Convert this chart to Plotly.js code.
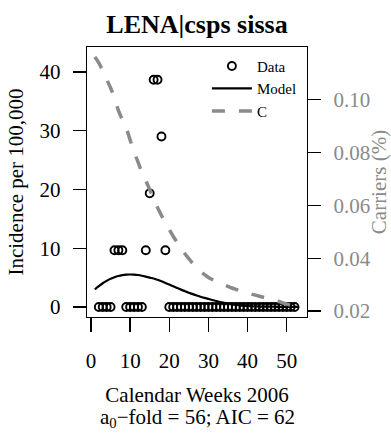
<!DOCTYPE html>
<html>
<head>
<meta charset="utf-8">
<script src="https://cdn.plot.ly/plotly-3.0.1.min.js"></script>
<style>html,body{margin:0;padding:0;background:#fff;}#chart{width:391px;height:434px;}</style>
</head>
<body>
<div id="chart"></div>
<script>
// Observed incidence (per 100,000) by calendar week
var dataWeeks = [2,3,4,5,6,7,8,9,10,11,12,13,14,15,16,17,18,19,20,21,22,23,24,25,26,27,28,29,30,31,32,33,34,35,36,37,38,39,40,41,42,43,44,45,46,47,48,49,50,51,52];
var incidence = [0,0,0,0,9.675,9.675,9.675,0,0,0,0,0,9.675,19.35,38.7,38.7,29.025,9.675,0,0,0,0,0,0,0,0,0,0,0,0,0,0,0,0,0,0,0,0,0,0,0,0,0,0,0,0,0,0,0,0,0];

// Model fit and carriage curve, by week
var curveWeeks = [1,2,3,4,5,6,7,8,9,10,11,12,13,14,15,16,17,18,19,20,21,22,23,24,25,26,27,28,29,30,31,32,33,34,35,36,37,38,39,40,41,42,43,44,45,46,47,48,49,50,51,52,53];
var model = [3.0,3.55,4.05,4.45,4.8,5.08,5.28,5.42,5.51,5.54,5.52,5.45,5.33,5.17,5.0,4.85,4.63,4.38,4.1,3.82,3.53,3.24,2.96,2.7,2.44,2.2,1.97,1.76,1.56,1.38,1.2,1.02,0.86,0.7,0.57,0.46,0.37,0.29,0.23,0.18,0.14,0.11,0.09,0.07,0.06,0.05,0.04,0.03,0.03,0.02,0.02,0.02,0.01];
var carriers = [0.1162,0.1140,0.1110,0.1078,0.1045,0.1008,0.0960,0.0925,0.0893,0.0848,0.0802,0.0765,0.0725,0.0693,0.0660,0.0625,0.0592,0.0562,0.0535,0.0508,0.0483,0.0460,0.0438,0.0417,0.0398,0.0380,0.0364,0.0350,0.0338,0.0327,0.0319,0.0312,0.0305,0.0299,0.0293,0.0287,0.0282,0.0277,0.0272,0.0268,0.0264,0.0260,0.0256,0.0252,0.0248,0.0244,0.0240,0.0236,0.0231,0.0226,0.0222,0.0218,0.0215];

var xTicks = [0,10,20,30,40,50];
var yTicks = [0,10,20,30,40];
var y2Ticks = [0.02,0.04,0.06,0.08,0.10];
var y2TickText = ['0.02','0.04','0.06','0.08','0.10'];

var FONT = '"Liberation Serif", "Times New Roman", serif';
var GREY = '#8a8a8a';

var traces = [
  {x: dataWeeks, y: incidence, type: 'scatter', mode: 'markers', name: 'Data',
   marker: {symbol: 'circle-open', size: 8, color: '#000', line: {width: 1.9, color: '#000'}}},
  {x: curveWeeks, y: model, type: 'scatter', mode: 'lines', name: 'Model',
   line: {color: '#000', width: 2.2, shape: 'spline'}},
  {x: curveWeeks, y: carriers, type: 'scatter', mode: 'lines', name: 'C', yaxis: 'y2',
   line: {color: GREY, width: 3.5, dash: '13px,14px', shape: 'spline'}}
];

var layout = {
  width: 391, height: 434,
  margin: {l: 87, r: 84, t: 47, b: 117},
  paper_bgcolor: '#fff', plot_bgcolor: '#fff',
  font: {family: FONT, size: 21, color: '#000'},
  showlegend: true,
  title: {text: '<b>LENA|csps sissa</b>', font: {family: FONT, size: 26, color: '#000'},
          x: 0.5, xref: 'paper', xanchor: 'center', y: 1 - 24/434, yref: 'container', yanchor: 'middle'},
  xaxis: {range: [-1.02, 55.18], tickvals: xTicks, ticktext: xTicks.map(String),
          ticks: 'outside', ticklen: 14, tickwidth: 1.3, tickcolor: '#000',
          showline: true, linecolor: '#000', linewidth: 1.3, mirror: true,
          showgrid: false, zeroline: false, ticklabelstandoff: 10,
          title: {text: 'Calendar Weeks 2006', font: {family: FONT, size: 21}, standoff: 15}},
  yaxis: {range: [-1.70, 44.27], tickvals: yTicks, ticktext: yTicks.map(String),
          ticks: 'outside', ticklen: 13, tickwidth: 1.3, tickcolor: '#000',
          showline: true, linecolor: '#000', linewidth: 1.3, mirror: true,
          showgrid: false, zeroline: false, ticklabelstandoff: 8,
          title: {text: 'Incidence per 100,000', font: {family: FONT, size: 21}, standoff: 10}},
  yaxis2: {range: [0.01772, 0.1200], overlaying: 'y', side: 'right',
           tickvals: y2Ticks, ticktext: y2TickText,
           ticks: 'outside', ticklen: 13, tickwidth: 1.3, tickcolor: '#000',
           tickfont: {family: FONT, size: 21, color: GREY},
           showline: true, linecolor: '#000', linewidth: 1.3,
           showgrid: false, zeroline: false, ticklabelstandoff: 8,
           title: {text: 'Carriers (%)', font: {family: FONT, size: 21, color: GREY}, standoff: 0}},
  legend: {x: 0.545, y: 0.99, xanchor: 'left', yanchor: 'top', bgcolor: 'rgba(0,0,0,0)',
           itemwidth: 40,
           font: {family: FONT, size: 15, color: '#000'}, tracegroupgap: 0},
  annotations: [
    {text: 'a<sub>0</sub>−fold = 56; AIC = 62', xref: 'paper', yref: 'paper', x: 0.5, y: 0,
     yshift: -(418 - 316.7), xanchor: 'center', yanchor: 'middle', showarrow: false,
     font: {family: FONT, size: 21, color: '#000'}}
  ]
};

Plotly.newPlot('chart', traces, layout, {displayModeBar: false, staticPlot: true});
</script>
</body>
</html>
